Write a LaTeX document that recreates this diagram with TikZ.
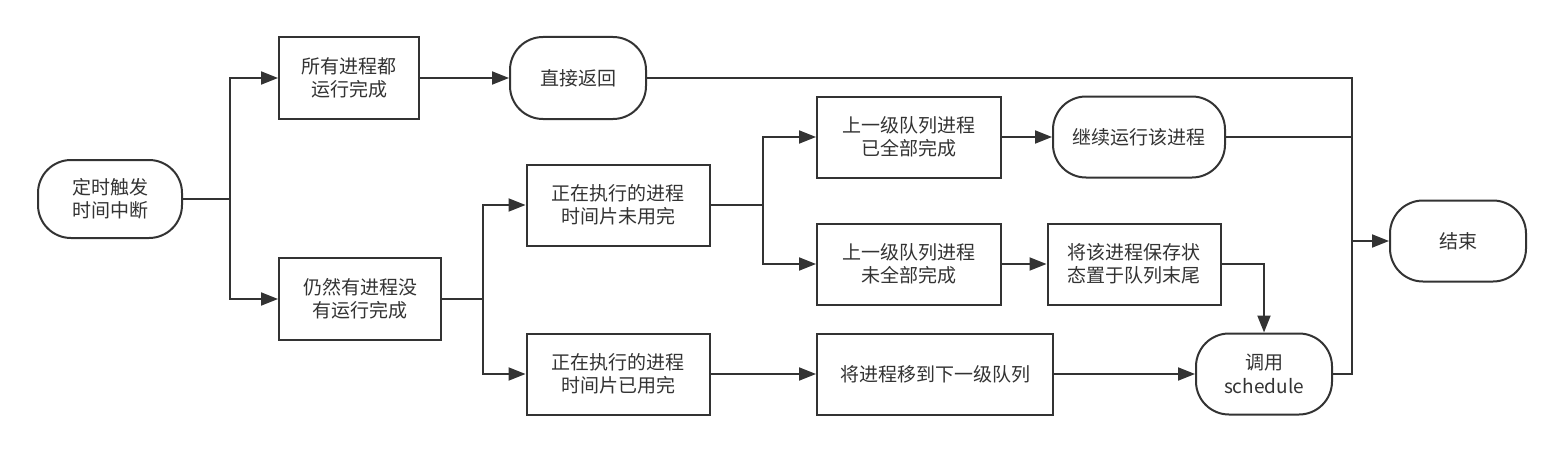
\documentclass[tikz,border=0pt]{standalone}
\usepackage{fontspec}
\setmainfont{Noto Sans CJK SC}
\usetikzlibrary{arrows.meta}
\definecolor{ink}{HTML}{333333}
\begin{document}
\begin{tikzpicture}[x=1pt,y=-1pt,
  box/.style={draw=ink,line width=2pt,fill=white,text=ink,align=center,
    font=\fontsize{19}{23.5}\selectfont,inner sep=0pt},
  proc/.style={box},
  term/.style={box,rounded corners=33pt},
  conn/.style={draw=ink,line width=2pt},
  arr/.style={conn,-{Triangle[length=17pt,width=13pt]}}]
\useasboundingbox (0,0) rectangle (1561,452);
\node[term,minimum width=144pt,minimum height=78pt] (t1) at (110,199) {定时触发\\时间中断};
\node[proc,minimum width=140pt,minimum height=82pt] (a1) at (349,78) {所有进程都\\运行完成};
\node[proc,minimum width=162pt,minimum height=82pt] (a2) at (360,299) {仍然有进程没\\有运行完成};
\node[term,minimum width=136pt,minimum height=82pt] (r1) at (578,78) {直接返回};
\node[proc,minimum width=183pt,minimum height=81pt] (b1) at (618,205) {正在执行的进程\\时间片未用完};
\node[proc,minimum width=183pt,minimum height=81pt] (b2) at (618,374) {正在执行的进程\\时间片已用完};
\node[proc,minimum width=184pt,minimum height=81pt] (c1) at (909,137) {上一级队列进程\\已全部完成};
\node[proc,minimum width=184pt,minimum height=81pt] (c2) at (909,264) {上一级队列进程\\未全部完成};
\node[proc,minimum width=236pt,minimum height=81pt] (c3) at (935,374) {将进程移到下一级队列};
\node[term,minimum width=172pt,minimum height=81pt] (d1) at (1139,137) {继续运行该进程};
\node[proc,minimum width=173pt,minimum height=81pt] (d2) at (1134,264) {将该进程保存状\\态置于队列末尾};
\node[term,minimum width=136pt,minimum height=81pt] (e1) at (1264,374) {调用\\schedule};
\node[term,minimum width=136pt,minimum height=81pt] (end) at (1458,241) {结束};
\coordinate (j1) at (230,199);
\coordinate (j2) at (483,299);
\coordinate (j3) at (763,205);
\coordinate (bus) at (1352,241);
\draw[conn] (t1.east) -- (j1);
\draw[arr] (j1) |- (a1.west);
\draw[arr] (j1) |- (a2.west);
\draw[arr] (a1) -- (r1);
\draw[conn] (a2.east) -- (j2);
\draw[arr] (j2) |- (b1.west);
\draw[arr] (j2) |- (b2.west);
\draw[conn] (b1.east) -- (j3);
\draw[arr] (j3) |- (c1.west);
\draw[arr] (j3) |- (c2.west);
\draw[arr] (c1) -- (d1);
\draw[arr] (c2) -- (d2);
\draw[arr] (b2) -- (c3);
\draw[arr] (c3) -- (e1);
\draw[arr] (d2.east) -| (e1.north);
\draw[conn] (r1.east) -| (bus);
\draw[conn] (d1.east) -| (bus);
\draw[conn] (e1.east) -| (bus);
\draw[arr] (bus) -- (end.west);
\end{tikzpicture}
\end{document}
